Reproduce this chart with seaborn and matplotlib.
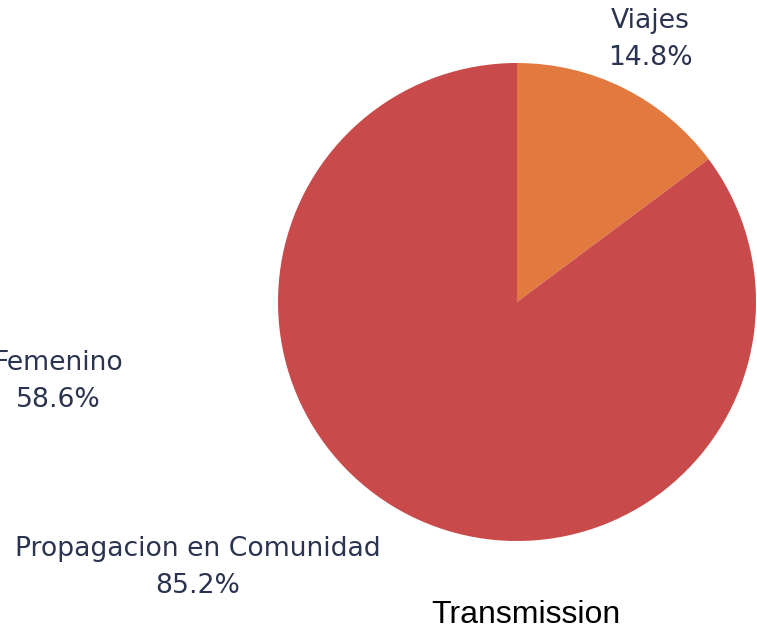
import matplotlib.pyplot as plt
import seaborn as sns

categories = ["Viajes", "Propagacion en Comunidad"]
shares = [14.8, 85.2]
colors = ["#E27A3F", "#C94A4A"]
stray_label = "Femenino"
stray_share = 58.6
title = "Transmission"

TEXT = "#2A3350"

sns.set_theme(style="white")
plt.rcParams["font.family"] = ["DejaVu Sans"]

W, H = 757, 637
fig = plt.figure(figsize=(W / 100, H / 100), dpi=100)

cx, cy, r = 517, 302, 239
ax = fig.add_axes([(cx - r) / W, (H - cy - r) / H, 2 * r / W, 2 * r / H])
ax.pie(shares, colors=colors, startangle=90, counterclock=False,
       wedgeprops=dict(linewidth=0))
ax.set_xlim(-1, 1)
ax.set_ylim(-1, 1)
ax.set_aspect("equal")
ax.axis("off")


def label(x, y, name, pct):
    fig.text(x / W, 1 - y / H, name, ha="center", va="center",
             fontsize=19.2, color=TEXT)
    fig.text(x / W, 1 - (y + 37) / H, f"{pct}%", ha="center", va="center",
             fontsize=19.2, color=TEXT)


label(650, 21, categories[0], shares[0])
label(198, 549, categories[1], shares[1])
label(58, 363, stray_label, stray_share)

fig.text(526 / W, 1 - 615 / H, title, ha="center", va="center",
         fontsize=23, color="black", family="Liberation Sans")

fig.savefig("out.png", dpi=100)
